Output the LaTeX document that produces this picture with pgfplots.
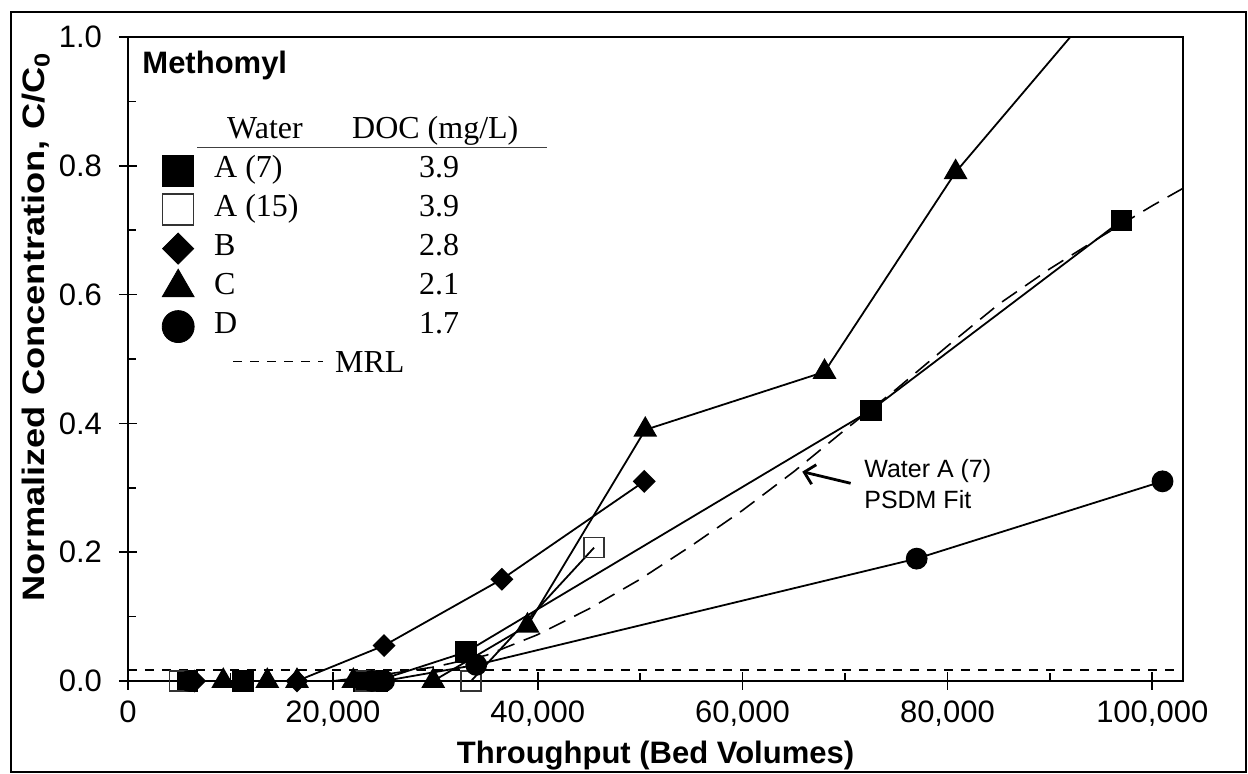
\documentclass[border=0pt]{standalone}
\usepackage{fontspec}
\setmainfont{Liberation Sans}
\newfontfamily\serif{Liberation Serif}
\usepackage{pgfplots}
\pgfplotsset{compat=1.18}
\usetikzlibrary{arrows.meta}

\pgfplotsset{
  ser/.style={black, line width=0.9pt, mark options={solid, fill=black}},
}

\begin{document}
\begin{tikzpicture}
\useasboundingbox (-64pt,-46.5pt) rectangle (560pt,340.5pt);
\draw[line width=1pt] (-58.5pt,-45.5pt) rectangle (559pt,334.5pt);
\begin{axis}[
  at={(0,0)}, anchor=south west,
  scale only axis, width=527.5pt, height=322pt,
  xmin=0, xmax=103000, ymin=0, ymax=1,
  xtick={0,20000,40000,60000,80000,100000}, minor x tick num=1,
  ytick={0,0.2,0.4,0.6,0.8,1}, minor y tick num=1,
  xtick pos=bottom, ytick pos=left,
  tick align=center, major tick length=9pt, minor tick length=4pt,
  minor x tick style={yshift=2pt}, minor y tick style={xshift=2pt},
  tick style={black, line width=0.8pt},
  axis line style={line width=1pt},
  scaled x ticks=false,
  xticklabel={\pgfmathprintnumber[assume math mode=true, fixed, precision=0, 1000 sep={,}]{\tick}},
  yticklabel={\pgfmathprintnumber[assume math mode=true, fixed, fixed zerofill, precision=1]{\tick}},
  tick label style={font=\fontsize{15.5}{18}\selectfont},
  xticklabel style={yshift=-2pt},
  yticklabel style={xshift=-5pt},
  label style={font=\bfseries\fontsize{15.5}{18}\selectfont},
  xlabel={Throughput (Bed Volumes)},
  ylabel={\scalebox{1.17}[1]{Normalized Concentration, C/C\textsubscript{0}}},
  xlabel style={at={(axis description cs:0.5,-0.116)}, anchor=center},
  ylabel style={at={(axis description cs:-0.0872,0.55)}, anchor=center},
  legend style={draw=none, fill=none, at={(axis description cs:0.031,0.884)}, anchor=north west,
    font=\serif\fontsize{16}{19}\selectfont, row sep=0pt, column sep=10pt, inner sep=0pt,
    nodes={inner sep=0pt, text height=13pt, text depth=6.5pt}},
  legend cell align=left,
]
% Water A (7)
\addplot[ser, mark=square*, mark size=5pt, forget plot] coordinates {
  (5800,0) (11200,0) (23000,0) (24300,0) (33000,0.045) (72500,0.42) (97000,0.715)};
% Water A (15)
\addplot[ser, mark=square, mark size=5pt, mark options={solid, fill=none, draw=black!80, line width=0.7pt}, forget plot] coordinates {
  (5000,0) (23200,0) (33500,0) (45500,0.207)};
% Water B
\addplot[ser, mark=square*, mark size=3.6pt, mark options={solid, fill=black, rotate=45}, forget plot] coordinates {
  (6500,0) (16500,0) (25000,0.055) (36500,0.158) (50400,0.31)};
% Water C
\addplot[ser, mark=triangle*, mark size=6pt, forget plot] coordinates {
  (9300,0) (13600,0) (16500,0) (22000,0) (29800,0) (39000,0.086) (50500,0.39) (68000,0.48) (80800,0.79)};
\addplot[ser, no marks, forget plot] coordinates {(80800,0.79) (100000,1.15)};
% Water D
\addplot[ser, mark=*, mark size=5pt, forget plot] coordinates {
  (6000,0) (23800,0) (25000,0) (34000,0.025) (77000,0.19) (101000,0.31)};
% PSDM fit, Water A (7)
\addplot[black, line width=0.8pt, dash pattern=on 9pt off 5pt, forget plot] coordinates {
  (20000,0) (25000,0.01) (30000,0.022) (35000,0.04) (40000,0.072) (45000,0.112) (50000,0.158)
  (55000,0.21) (60000,0.265) (65000,0.325) (70000,0.39) (75000,0.453) (80000,0.52)
  (85000,0.585) (90000,0.64) (95000,0.69) (100000,0.738) (103000,0.765)};
% MRL
\addplot[black, line width=1pt, dash pattern=on 4.5pt off 4pt, forget plot] coordinates {(0,0.017) (103000,0.017)};

\addlegendimage{empty legend}
\addlegendentry{\hspace*{-8.5pt}\rlap{\raisebox{-5pt}{\color{black!75}\rule{175pt}{0.6pt}}}\hspace*{15pt}\makebox[62.5pt][l]{Water}DOC (mg/L)}
\addlegendimage{black, only marks, mark=square*, mark size=7.75pt}
\addlegendentry{\makebox[112.5pt][l]{A (7)}\makebox[0pt]{3.9}}
\addlegendimage{black, only marks, mark=square, mark size=7.75pt, mark options={draw=black!80, line width=0.8pt}}
\addlegendentry{\makebox[112.5pt][l]{A (15)}\makebox[0pt]{3.9}}
\addlegendimage{black, only marks, mark=square*, mark size=5.5pt, mark options={rotate=45}}
\addlegendentry{\makebox[112.5pt][l]{B}\makebox[0pt]{2.8}}
\addlegendimage{black, only marks, mark=triangle*, mark size=9.2pt}
\addlegendentry{\makebox[112.5pt][l]{C}\makebox[0pt]{2.1}}
\addlegendimage{black, only marks, mark=*, mark size=8pt}
\addlegendentry{\makebox[112.5pt][l]{D}\makebox[0pt]{1.7}}
\addlegendimage{legend image code/.code={%
  \begin{pgfinterruptboundingbox}
  \draw[black, line width=0.9pt, dash pattern=on 4.5pt off 4pt] (36pt,2pt) -- (81pt,2pt);
  \end{pgfinterruptboundingbox}}}
\addlegendentry{\hspace*{60.5pt}MRL}

\node[anchor=base west, inner sep=0pt, font=\bfseries\fontsize{15.5}{18}\selectfont] at (axis description cs:0.0133,0.944) {Methomyl};
\node[anchor=north west, inner sep=0pt, align=left, font=\fontsize{12.5}{15.8}\selectfont] at (axis cs:71850,0.345) {Water A (7)\\PSDM Fit};
\draw[black, line width=1.4pt, -{Straight Barb[length=5pt, width=10pt]}] (axis cs:70550,0.307) -- (axis cs:65830,0.325);
\end{axis}
\end{tikzpicture}
\end{document}
